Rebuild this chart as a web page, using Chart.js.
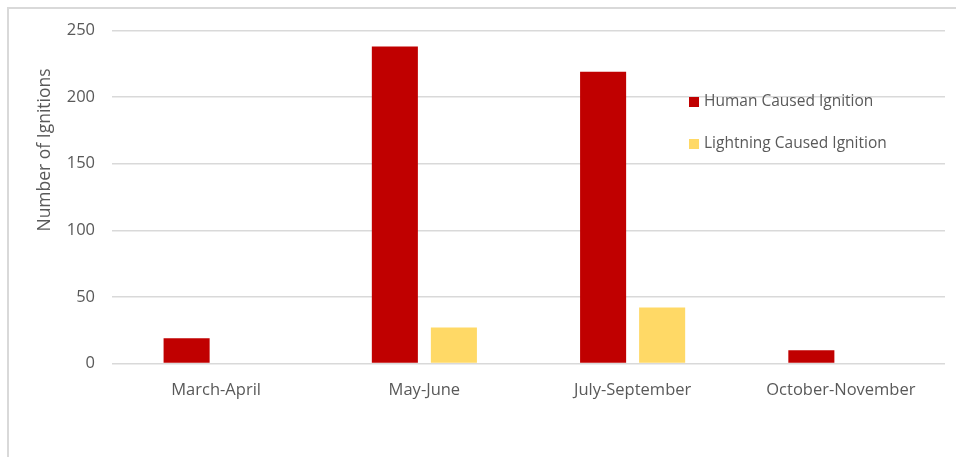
<!DOCTYPE html>
<html>
<head>
<meta charset="utf-8">
<script src="https://cdn.jsdelivr.net/npm/chart.js@4/dist/chart.umd.min.js"></script>
<style>
  html, body { margin: 0; padding: 0; background: #fff; }
  #wrap { position: relative; width: 956px; height: 457px; }
  #frame { position: absolute; left: 7px; top: 7px; right: 0; bottom: 0;
           border-left: 2px solid #d9d9d9; border-top: 2px solid #d9d9d9; }
  canvas { position: absolute; left: 0; top: 0; }
</style>
</head>
<body>
<div id="wrap">
  <div id="frame"></div>
  <canvas id="c" width="956" height="457"></canvas>
</div>
<script>
// Ignitions by season
const seasons = ['March-April', 'May-June', 'July-September', 'October-November'];
const humanCaused = [19, 238, 219, 10];
const lightningCaused = [0, 27, 42, 0];
const seriesNames = ['Human Caused Ignition', 'Lightning Caused Ignition'];
const yTicks = [0, 50, 100, 150, 200, 250];
const yTitle = 'Number of Ignitions';

const FONT = '"Open Sans", Lato, sans-serif';
const TEXT = '#595959';

// Draws the axis title and the in-plot legend
const overlay = {
  id: 'overlay',
  afterDraw(chart) {
    const ctx = chart.ctx;
    const area = chart.chartArea;
    ctx.save();
    ctx.setTransform(1, 0, 0, 1, 0, 0);
    ctx.fillStyle = TEXT;
    ctx.font = '17.5px ' + FONT;
    ctx.textAlign = 'center';
    ctx.textBaseline = 'middle';
    ctx.translate(45, 150);
    ctx.rotate(-Math.PI / 2);
    ctx.fillText(yTitle, 0, 0);
    ctx.restore();

    ctx.save();
    ctx.font = '15.5px ' + FONT;
    ctx.textBaseline = 'middle';
    ctx.textAlign = 'left';
    chart.data.datasets.forEach((ds, i) => {
      const y = 102 + i * 42;
      const x = area.right - 256;
      ctx.fillStyle = ds.backgroundColor;
      ctx.fillRect(x, y - 5, 10, 10);
      ctx.fillStyle = TEXT;
      ctx.fillText(ds.label, x + 15, y);
    });
    ctx.restore();
  }
};

new Chart(document.getElementById('c'), {
  type: 'bar',
  data: {
    labels: seasons,
    datasets: [
      { label: seriesNames[0], data: humanCaused, backgroundColor: '#C00000',
        categoryPercentage: 0.567, barPercentage: 0.78 },
      { label: seriesNames[1], data: lightningCaused, backgroundColor: '#FFD966',
        categoryPercentage: 0.567, barPercentage: 0.78 }
    ]
  },
  options: {
    responsive: false,
    animation: false,
    layout: { padding: { left: 0, right: 11, top: 30.5, bottom: 43.5 } },
    plugins: { legend: { display: false }, tooltip: { enabled: false } },
    scales: {
      x: {
        grid: { display: false, drawTicks: false },
        border: { display: false },
        ticks: { color: TEXT, font: { family: FONT, size: 16.5 }, padding: 17, maxRotation: 0 },
        afterFit(s) { s.height = 50; }
      },
      y: {
        min: 0, max: 250,
        afterBuildTicks(s) { s.ticks = yTicks.map(v => ({ value: v })); },
        grid: { color: '#d9d9d9', lineWidth: 1.5, drawTicks: false },
        border: { display: false },
        ticks: { color: TEXT, font: { family: FONT, size: 16.5 }, padding: 17 },
        afterFit(s) { s.width = 112; }
      }
    }
  },
  plugins: [overlay]
});
</script>
</body>
</html>
